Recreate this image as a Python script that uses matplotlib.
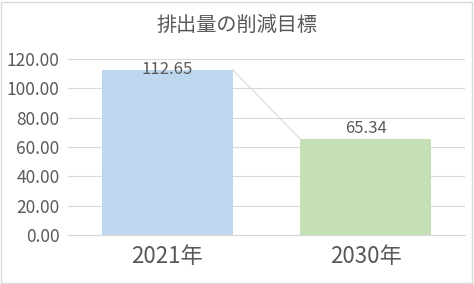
import matplotlib
matplotlib.use('Agg')
import matplotlib.pyplot as plt
from matplotlib.patches import Rectangle

plt.rcParams['font.family'] = ['Noto Sans CJK JP', 'DejaVu Sans']

categories = ['2021年', '2030年']
values = [112.65, 65.34]
bar_colors = ['#bdd7ee', '#c5e0b4']
yticks = [0, 20, 40, 60, 80, 100, 120]

TEXT = '#595959'
GRID = '#d9d9d9'

fig = plt.figure(figsize=(4.74, 2.84), dpi=100, facecolor='white')
ax = fig.add_axes([0.1435, 0.1725, 0.8375, 0.6195])

x = list(range(len(categories)))
width = 0.66
ax.bar(x, values, width=width, color=bar_colors, zorder=2)

# connector line between bar tops
ax.plot([x[0] + width / 2, x[1] - width / 2], values, color=GRID,
        linewidth=0.8, zorder=1)

ax.set_xlim(-0.5, 1.5)
ax.set_ylim(0, 120)
ax.set_yticks(yticks)
ax.set_yticklabels([f'{v:.2f}' for v in yticks])
ax.set_xticks(x)
ax.set_xticklabels(categories)

ax.grid(axis='y', color=GRID, linewidth=0.8, zorder=0)
for side in ['top', 'right', 'left']:
    ax.spines[side].set_visible(False)
ax.spines['bottom'].set_color(GRID)
ax.tick_params(axis='y', length=0, labelsize=12.5, colors=TEXT, pad=6)
ax.tick_params(axis='x', length=0, labelsize=16, colors=TEXT, pad=7)

# data labels (first one pushed inside the plot area, straddling the bar top)
ax.text(x[0], values[0], f'{values[0]:.2f}', ha='center', va='center',
        fontsize=12, color=TEXT, zorder=3)
ax.text(x[1], values[1] + 1.5, f'{values[1]:.2f}', ha='center', va='bottom',
        fontsize=12, color=TEXT, zorder=3)

fig.text(0.5, 0.91, '排出量の削減目標', ha='center', va='center',
         fontsize=14.5, color=TEXT)

fig.patches.append(Rectangle((0.002, 0.004), 0.994, 0.99, transform=fig.transFigure,
                             fill=False, edgecolor=GRID, linewidth=1))

fig.savefig('out.png', dpi=100)
